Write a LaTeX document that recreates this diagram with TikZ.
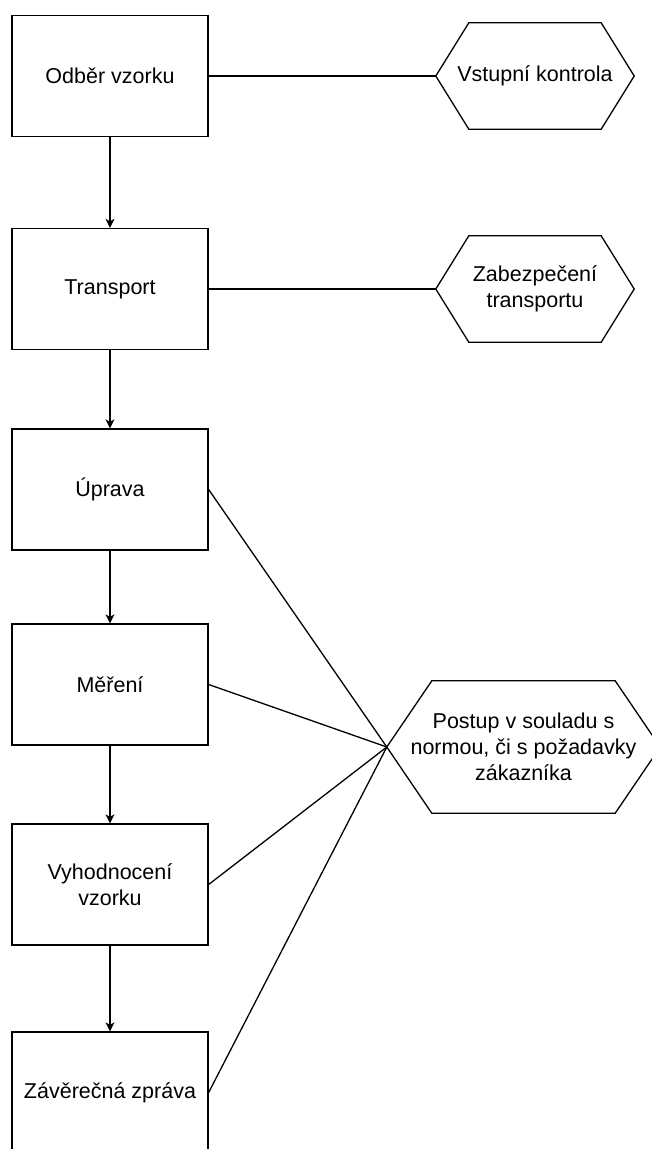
\documentclass[tikz,border=0pt]{standalone}
\usepackage{fontspec}
\setmainfont{Liberation Sans}
\usepackage{tikz}
\usetikzlibrary{arrows.meta}

\tikzset{
	krok/.style={shape=rectangle,draw,line width=1.3pt,minimum width=196pt,minimum height=121pt,inner sep=0pt,align=center},
	hexa/.style={shape=rectangle,draw=none,inner sep=0pt,align=center},
	spoj/.style={line width=1.3pt},
	sipka/.style={line width=1.3pt,-{Stealth[length=9pt,width=9pt,inset=2.5pt]}}
}
% obrys sestiuhelniku kolem uzlu #1, sikma hrana #2
\newcommand{\hexobrys}[2]{\draw[line width=1.3pt,line join=miter] ([xshift=#2]#1.north west) -- ([xshift=-#2]#1.north east) -- (#1.east) -- ([xshift=-#2]#1.south east) -- ([xshift=#2]#1.south west) -- (#1.west) -- cycle;}

\begin{document}
\begin{tikzpicture}[x=1pt,y=-1pt,font=\fontsize{21.5}{26}\selectfont]
	\useasboundingbox (0,0) rectangle (651,1149);
	%	kroky vlevo
	\node (odber) at(110,76)[krok]{Odběr vzorku};
	\node (transport) at(110,289)[krok]{Transport};
	\node (uprava) at(110,489.5)[krok]{Úprava};
	\node (mereni) at(110,684.5)[krok]{Měření};
	\node (vyhod) at(110,884.5)[krok]{Vyhodnocení\\vzorku};
	\node (zaver) at(110,1092.5)[krok]{Závěrečná zpráva};
	%	sestiuhelniky vpravo
	\node (vstup) at(535,76)[hexa,minimum width=198pt,minimum height=106pt]{Vstupní kontrola};
	\node (zabezp) at(535,289)[hexa,minimum width=198pt,minimum height=106pt]{Zabezpečení\\transportu};
	\node (postup) at(523.5,747)[hexa,minimum width=273pt,minimum height=132pt]{Postup v souladu s\\normou, či s požadavky\\zákazníka};
	\hexobrys{vstup}{33pt}
	\hexobrys{zabezp}{33pt}
	\hexobrys{postup}{45pt}
	%	sipky
	\draw[sipka] (odber) -- (transport);
	\draw[sipka] (transport) -- (uprava);
	\draw[sipka] (uprava) -- (mereni);
	\draw[sipka] (mereni) -- (vyhod);
	\draw[sipka] (vyhod) -- (zaver);
	%	spojnice
	\draw[spoj] (odber.east) -- (vstup.west);
	\draw[spoj] (transport.east) -- (zabezp.west);
	\draw[spoj] (uprava.east) -- (postup.west);
	\draw[spoj] (mereni.east) -- (postup.west);
	\draw[spoj] (vyhod.east) -- (postup.west);
	\draw[spoj] (zaver.east) -- (postup.west);
\end{tikzpicture}
\end{document}
